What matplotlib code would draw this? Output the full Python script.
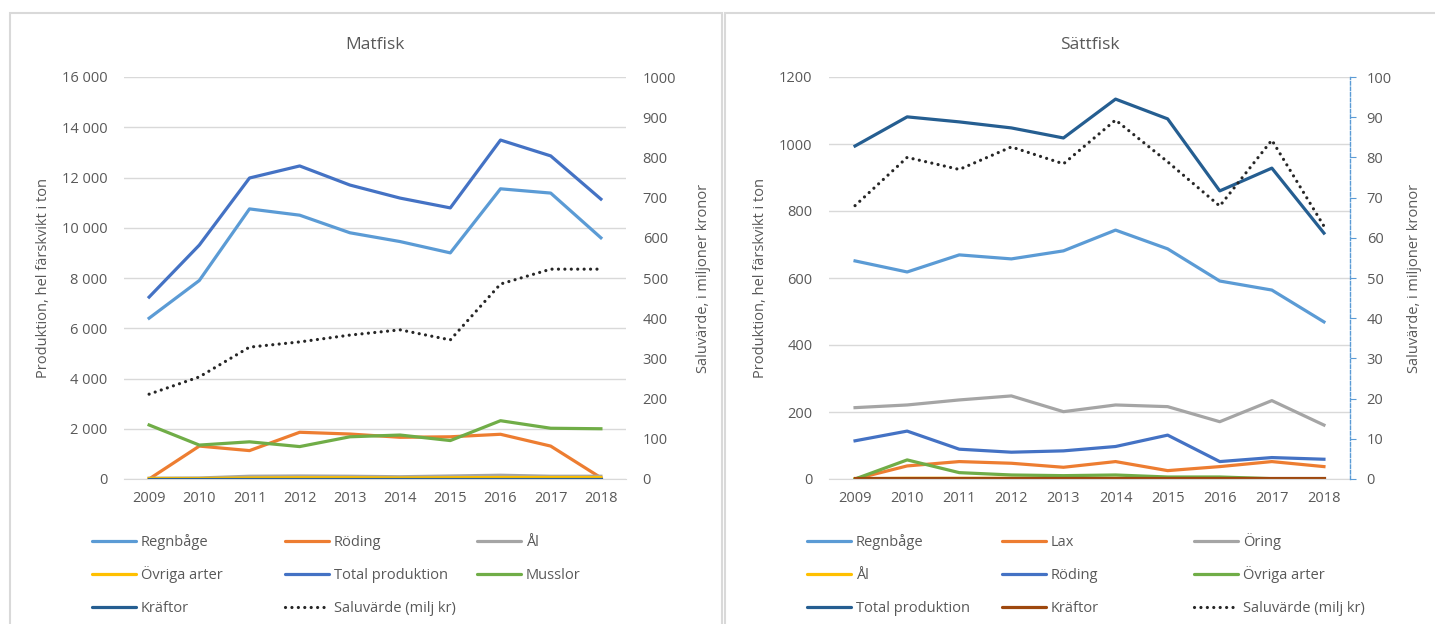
import matplotlib
matplotlib.use("Agg")
import matplotlib.pyplot as plt
from matplotlib.ticker import FuncFormatter, MultipleLocator
from matplotlib.patches import Rectangle
from matplotlib.lines import Line2D

plt.rcParams['font.family'] = ['Open Sans', 'DejaVu Sans']
plt.rcParams['font.size'] = 10.5

years = [2009, 2010, 2011, 2012, 2013, 2014, 2015, 2016, 2017, 2018]

# Matfisk (ton), saluvärde i miljoner kronor
mat_regnbage = [6400, 7900, 10750, 10500, 9800, 9450, 9000, 11550, 11380, 9600]
mat_roding = [0, 1310, 1130, 1860, 1790, 1660, 1680, 1780, 1310, 50]
mat_al = [30, 40, 110, 120, 110, 90, 120, 150, 110, 110]
mat_ovriga = [20, 20, 40, 50, 50, 40, 50, 60, 60, 60]
mat_total = [7240, 9310, 11980, 12460, 11700, 11180, 10790, 13490, 12860, 11140]
mat_musslor = [2150, 1350, 1480, 1290, 1680, 1750, 1530, 2320, 2020, 2000]
mat_kraftor = [10, 10, 10, 10, 10, 10, 10, 10, 10, 10]
mat_saluvarde = [211, 254, 328, 341, 358, 371, 346, 485, 522, 522]

# Sättfisk (ton), saluvärde i miljoner kronor
satt_regnbage = [651, 618, 669, 657, 681, 743, 687, 591, 564, 469]
satt_lax = [0, 39, 52, 47, 35, 52, 25, 37, 52, 37]
satt_oring = [213, 221, 236, 248, 201, 221, 216, 171, 234, 161]
satt_al = [1, 2, 2, 2, 2, 2, 2, 2, 1, 1]
satt_roding = [114, 143, 89, 80, 84, 97, 131, 52, 64, 59]
satt_ovriga = [0, 57, 19, 12, 10, 12, 6, 6, 1, 0]
satt_total = [994, 1081, 1066, 1048, 1018, 1134, 1075, 860, 928, 734]
satt_kraftor = [3, 3, 3, 3, 3, 3, 3, 3, 3, 3]
satt_saluvarde = [68, 80, 77, 82.6, 78.4, 89.3, 78.9, 67.9, 84.3, 62.9]

C_LBLUE = '#5B9BD5'
C_ORANGE = '#ED7D31'
C_GRAY = '#A5A5A5'
C_YELLOW = '#FFC000'
C_BLUE = '#4472C4'
C_GREEN = '#70AD47'
C_DBLUE = '#255E91'
C_BROWN = '#9E480E'
TXT = '#595959'
GRID = '#D9D9D9'

W, H = 1435, 624
fig = plt.figure(figsize=(W / 100, H / 100), dpi=100)


def fx(px):
    return px / W


def fy(py):
    return 1 - py / H


def box(l, r, t, b):
    return [fx(l), fy(b), fx(r) - fx(l), fy(t) - fy(b)]


# chart area borders
fig.patches.append(Rectangle((fx(10), fy(640)), fx(722) - fx(10), fy(13) - fy(640),
                             transform=fig.transFigure, fill=False, ec=GRID, lw=1.5))
fig.patches.append(Rectangle((fx(725), fy(640)), fx(1450) - fx(725), fy(13) - fy(640),
                             transform=fig.transFigure, fill=False, ec=GRID, lw=1.5))

thousands = FuncFormatter(lambda v, p: f"{int(v):,}".replace(",", " "))


def setup(ax, ymax, step, ax2, y2max, step2):
    ax.set_xlim(-0.5, len(years) - 0.5)
    ax.set_xticks(range(len(years)))
    ax.set_xticklabels([str(y) for y in years])
    ax.set_ylim(0, ymax)
    ax.yaxis.set_major_locator(MultipleLocator(step))
    ax.grid(axis='y', color=GRID, lw=1)
    ax.set_axisbelow(True)
    for s in ['top', 'right', 'left']:
        ax.spines[s].set_visible(False)
    ax.spines['bottom'].set_color(GRID)
    ax.tick_params(length=0, colors=TXT, labelsize=10.5)
    ax.tick_params(axis='x', pad=9)
    ax.tick_params(axis='y', pad=12)
    ax2.set_ylim(0, y2max)
    ax2.yaxis.set_major_locator(MultipleLocator(step2))
    for s in ['top', 'left', 'bottom', 'right']:
        ax2.spines[s].set_visible(False)
    ax2.tick_params(length=0, colors=TXT, labelsize=10.5, pad=12)


x = list(range(len(years)))
lw = 2.3
dots = (0, (0.01, 2.0))

# ---- Matfisk ----
ax = fig.add_axes(box(124, 626, 77, 479))
ax2 = ax.twinx()
setup(ax, 16000, 2000, ax2, 1000, 100)
ax.yaxis.set_major_formatter(thousands)

l1, = ax.plot(x, mat_regnbage, color=C_LBLUE, lw=lw, label='Regnbåge')
l2, = ax.plot(x, mat_roding, color=C_ORANGE, lw=lw, label='Röding')
l3, = ax.plot(x, mat_al, color=C_GRAY, lw=lw, label='Ål')
l4, = ax.plot(x, mat_ovriga, color=C_YELLOW, lw=lw, label='Övriga arter')
l5, = ax.plot(x, mat_total, color=C_BLUE, lw=lw, label='Total produktion')
l6, = ax.plot(x, mat_musslor, color=C_GREEN, lw=lw, label='Musslor')
l7, = ax.plot(x, mat_kraftor, color=C_DBLUE, lw=lw, label='Kräftor')
l8, = ax2.plot(x, mat_saluvarde, color='#262626', lw=2.3, ls=dots,
               dash_capstyle='round', label='Saluvärde (milj kr)')

ax.set_title('Matfisk', color=TXT, fontsize=12.5, pad=20)
ax.set_ylabel('Produktion, hel färskvikt i ton', color=TXT, fontsize=10.5, labelpad=8)
ax2.set_ylabel('Saluvärde, i miljoner kronor', color=TXT, fontsize=10.5, labelpad=14)

# ---- Sättfisk ----
bx = fig.add_axes(box(829, 1350, 77, 479))
bx2 = bx.twinx()
setup(bx, 1200, 200, bx2, 100, 10)
bx2.spines['right'].set_visible(True)
bx2.spines['right'].set_color(C_LBLUE)
bx2.spines['right'].set_linestyle((0, (2.5, 1.5)))
bx2.spines['right'].set_linewidth(1)
bx2.tick_params(axis='y', length=4, direction='out', color=C_LBLUE, pad=8)

m1, = bx.plot(x, satt_regnbage, color=C_LBLUE, lw=lw, label='Regnbåge')
m2, = bx.plot(x, satt_lax, color=C_ORANGE, lw=lw, label='Lax')
m3, = bx.plot(x, satt_oring, color=C_GRAY, lw=lw, label='Öring')
m4, = bx.plot(x, satt_al, color=C_YELLOW, lw=lw, label='Ål')
m5, = bx.plot(x, satt_roding, color=C_BLUE, lw=lw, label='Röding')
m6, = bx.plot(x, satt_ovriga, color=C_GREEN, lw=lw, label='Övriga arter')
m7, = bx.plot(x, satt_total, color=C_DBLUE, lw=lw, label='Total produktion')
m8, = bx.plot(x, satt_kraftor, color=C_BROWN, lw=lw, label='Kräftor')
m9, = bx2.plot(x, satt_saluvarde, color='#262626', lw=2.3, ls=dots,
               dash_capstyle='round', label='Saluvärde (milj kr)')

bx.set_title('Sättfisk', color=TXT, fontsize=12.5, pad=20)
bx.set_ylabel('Produktion, hel färskvikt i ton', color=TXT, fontsize=10.5, labelpad=8)
bx2.set_ylabel('Saluvärde, i miljoner kronor', color=TXT, fontsize=10.5, labelpad=11)

dotted = [l8, m9]


# legend drawn by hand: a short line copied from each series, text on the same row
def legend_item(h, left_px, row_px):
    style = dots if h in dotted else '-'
    fig.add_artist(Line2D([fx(left_px + 2), fx(left_px + 46)], [fy(row_px), fy(row_px)],
                          transform=fig.transFigure, color=h.get_color(),
                          lw=h.get_linewidth(), ls=style,
                          dash_capstyle='round', solid_capstyle='round'))
    fig.text(fx(left_px + 51), fy(row_px + 5), h.get_label(), color=TXT,
             fontsize=10.5, va='baseline', ha='left')


rows = [541, 574, 607]
for col, hs in zip([90, 283, 475], [[l1, l4, l7], [l2, l5, l8], [l3, l6]]):
    for h, r in zip(hs, rows):
        legend_item(h, col, r)
for col, hs in zip([805, 1000, 1192], [[m1, m4, m7], [m2, m5, m8], [m3, m6, m9]]):
    for h, r in zip(hs, rows):
        legend_item(h, col, r)

fig.savefig('out.png', dpi=100)
